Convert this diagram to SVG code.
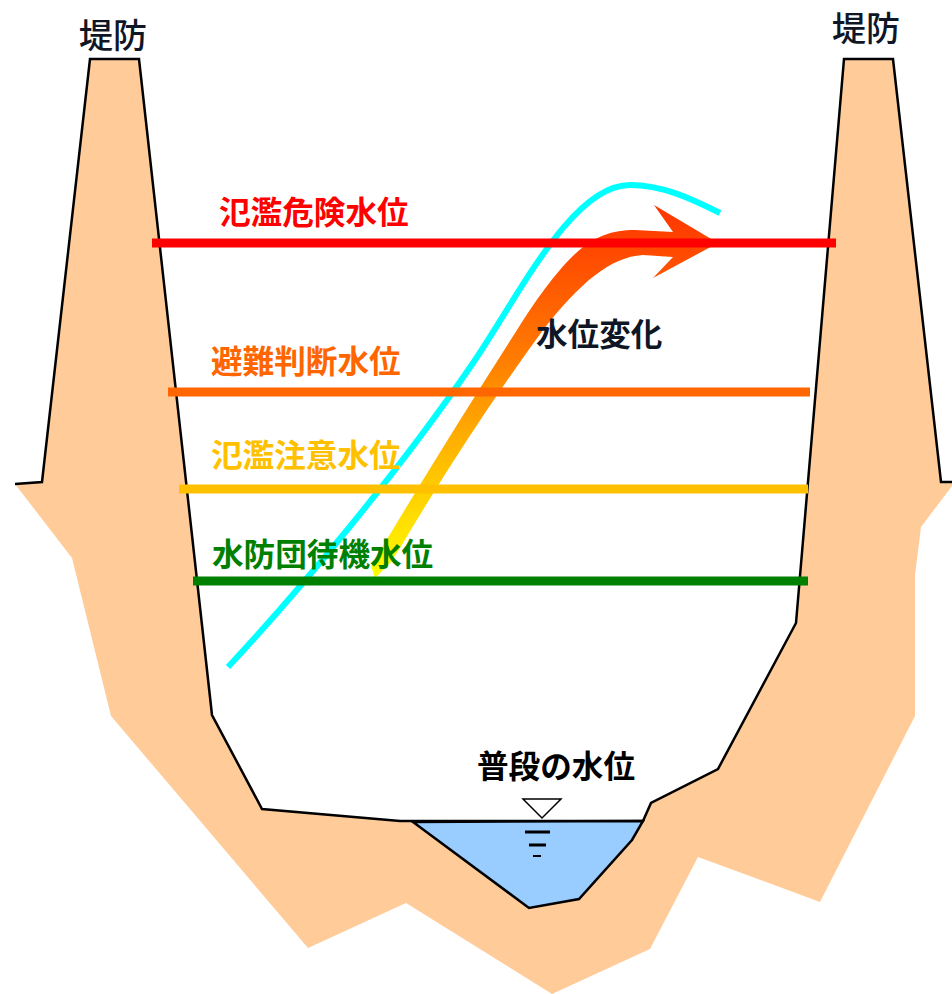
<svg xmlns="http://www.w3.org/2000/svg" width="952" height="994" viewBox="0 0 952 994">
  <style>
    .earth { fill: #FFCC99; stroke: none; }
    .outline { fill: none; stroke: #000; stroke-width: 2.5; stroke-linejoin: miter; }
    .water { fill: #99CCFF; stroke: #000; stroke-width: 2.5; stroke-linejoin: miter; }
    .lvl { stroke-width: 9; fill: none; }
    .lbl { font-family: "Noto Sans CJK JP", "Noto Sans CJK SC", sans-serif; font-size: 31.6px; font-weight: bold; }
    .bank { font-family: "Noto Sans CJK JP", "Noto Sans CJK SC", sans-serif; font-size: 34px; font-weight: 500; fill: #0F1726; }
  </style>
  <defs>
    <linearGradient id="riseGrad" gradientUnits="userSpaceOnUse" x1="0" y1="578" x2="0" y2="205">
      <stop offset="0" stop-color="#FFFF00"/>
      <stop offset="0.3" stop-color="#FFC000"/>
      <stop offset="0.6" stop-color="#FF7A00"/>
      <stop offset="1" stop-color="#FF3300"/>
    </linearGradient>
  </defs>

  <rect width="952" height="994" fill="#FFFFFF"/>

  <!-- river cross-section: banks and bed -->
  <g id="ground">
    <path class="earth" d="M90,59 L139,59 L212,715 L262,809 L400,821 L643,821 L651,803 L718,769 L796,623 L844,59 L893,59 L941,482 L952,482 L952,486 L921,527 L915,575 L915,716 L820,902 L698,857 L650,949 L552,994 L406,903 L308,948 L111,716 L72,558 L15,484 L42,482 Z"/>
    <path class="outline" d="M15,484 L42,482 L90,59 L139,59 L212,715 L262,809 L400,821 L643,821 L651,803 L718,769 L796,623 L844,59 L893,59 L941,482 L952,482"/>
  </g>

  <!-- normal channel water -->
  <g id="normal-water">
    <path class="water" d="M413,822 L529,908 L579,899 L632,840 L643,821 Z"/>
    <path d="M523,799 L561,799 L542,818 Z" fill="#FFFFFF" stroke="#000" stroke-width="1.5"/>
    <line x1="525" y1="832" x2="550" y2="832" stroke="#000" stroke-width="3"/>
    <line x1="529" y1="845" x2="546" y2="845" stroke="#000" stroke-width="3"/>
    <line x1="533" y1="856" x2="541" y2="856" stroke="#000" stroke-width="2"/>
  </g>

  <!-- flood water surface curve -->
  <g id="surface-curve">
    <path d="M228,667 C300,590 400,470 473,363 C520,294 572,185 630,185 C662,185 690,198 720,213" fill="none" stroke="#00FFFF" stroke-width="6"/>
  </g>

  <!-- rising water level arrow -->
  <g id="rise-arrow">
    <path fill="url(#riseGrad)" d="M375,578 L371,566 Q440,450 517,330 C540,293 560,268 575,254 C595,236 612,230 635,230 L673,232 L654,205 L718,243 L653,278 L673,257 L643,255 C610,257 580,283 543,330 Q470,430 400,548 L390,563 Z"/>
  </g>

  <!-- warning level lines -->
  <g id="levels">
    <line class="lvl" x1="152" y1="243" x2="836" y2="243" stroke="#FF0000"/>
    <line class="lvl" x1="168" y1="392" x2="810" y2="392" stroke="#FF6600"/>
    <line class="lvl" x1="179" y1="489" x2="808" y2="489" stroke="#FFC000"/>
    <line class="lvl" x1="193" y1="581" x2="808" y2="581" stroke="#008000"/>
  </g>

  <g id="labels">
    <text class="lbl" x="219" y="224" fill="#FF0000">氾濫危険水位</text>
    <text class="lbl" x="211" y="373" fill="#FF6600">避難判断水位</text>
    <text class="lbl" x="211" y="467" fill="#FFC000">氾濫注意水位</text>
    <text class="lbl" x="212" y="566" fill="#008000">水防団待機水位</text>
    <text class="lbl" x="536" y="346" fill="#0F1726">水位変化</text>
    <text class="lbl" x="477" y="778" fill="#000000">普段の水位</text>
    <text class="bank" x="79" y="48">堤防</text>
    <text class="bank" x="832" y="41">堤防</text>
  </g>
</svg>
